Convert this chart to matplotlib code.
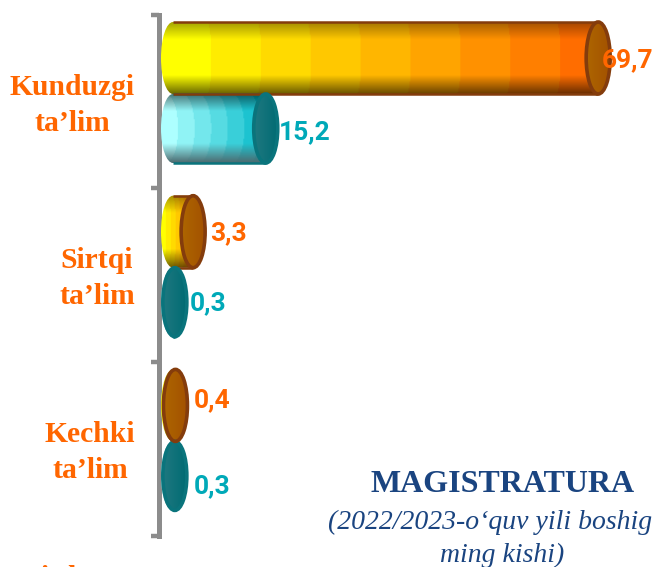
import numpy as np
import matplotlib
matplotlib.use("Agg")
import matplotlib.pyplot as plt
from matplotlib.patches import Ellipse, PathPatch
from matplotlib.path import Path

categories = ["Kunduzgi\nta\u2019lim", "Sirtqi\nta\u2019lim", "Kechki\nta\u2019lim"]
orange_values = [69.7, 3.3, 0.4]
teal_values = [15.2, 0.3, 0.3]
orange_labels = ["69,7", "3,3", "0,4"]
teal_labels = ["15,2", "0,3", "0,3"]

W, H = 654, 567
PX_X = 6.1      # pixels per unit of value
PX_Y = 173.7    # pixels per category
X0 = 161        # pixel of value zero
Y0 = 100.5      # pixel of first category
CAP = 24 / PX_X
ORANGE_H = 72 / PX_Y
TEAL_H = 69 / PX_Y
ORANGE_OFF = -42.5 / PX_Y
TEAL_OFF = 28 / PX_Y

fig = plt.figure(figsize=(W / 100, H / 100), dpi=100)
ax = fig.add_axes([0, 0, 1, 1])
ax.axis("off")


def reset_limits():
    # imshow changes the limits, so put them back after each call
    ax.set_xlim(-X0 / PX_X, (W - X0) / PX_X)
    ax.set_ylim((H - Y0) / PX_Y, -Y0 / PX_Y)


def shade(n, top, bottom):
    t = np.linspace(0, 1, n)
    s = np.ones(n)
    s[t < 0.24] = top + (1 - top) * (t[t < 0.24] / 0.24)
    s[t > 0.74] = 1 - (1 - bottom) * ((t[t > 0.74] - 0.74) / 0.26)
    return s


def cylinder(value, y, h, c_left, c_right, bands, edge, cap_left, cap_right, top, bottom,
             bend_k=1.0, low_grey=False):
    x1 = value + CAP
    rx = CAP / 2
    y0, y3 = y - h / 2, y + h / 2
    nx, ny = max(int(x1 * PX_X) + 2, 4), int(h * PX_Y) + 2
    xx, yy = np.meshgrid(np.linspace(0, x1, nx), np.linspace(-1, 1, ny))
    # stepped colour bands, bent a little like the curve of the cylinder
    bend = bend_k * rx * (1 - np.sqrt(np.clip(1 - yy ** 2, 0, 1)))
    pos = np.clip((xx + bend) / x1, 0, 0.999)
    step = np.floor(pos * bands) / (bands - 1)
    img = np.zeros((ny, nx, 3))
    for k in range(3):
        img[..., k] = c_left[k] + (c_right[k] - c_left[k]) * step
    if low_grey:
        t = np.clip((np.linspace(0, 1, ny) - 0.72) / 0.28, 0, 1)[:, None, None]
        img = img * shade(ny, top, 1.0)[:, None, None] * (1 - t) + np.array([0.3, 0.42, 0.44]) * t
    else:
        img = img * shade(ny, top, bottom)[:, None, None]
    im = ax.imshow(img, extent=[0, x1, y3, y0], aspect="auto", zorder=2, interpolation="bilinear")

    k = 0.5523
    ry = h / 2
    verts = [(rx, y0), (value + rx, y0),
             (value + rx + k * rx, y0), (x1, y - k * ry), (x1, y),
             (x1, y + k * ry), (value + rx + k * rx, y3), (value + rx, y3),
             (rx, y3),
             (rx - k * rx, y3), (0, y + k * ry), (0, y),
             (0, y - k * ry), (rx - k * rx, y0), (rx, y0)]
    codes = [Path.MOVETO, Path.LINETO, Path.CURVE4, Path.CURVE4, Path.CURVE4,
             Path.CURVE4, Path.CURVE4, Path.CURVE4, Path.LINETO,
             Path.CURVE4, Path.CURVE4, Path.CURVE4, Path.CURVE4, Path.CURVE4, Path.CURVE4]
    outline = PathPatch(Path(verts, codes), fc="none", ec="none", zorder=3)
    ax.add_patch(outline)
    im.set_clip_path(outline)
    # only the long sides carry a stroke, the left end has none
    ax.plot([rx, value + rx], [y0, y0], color=edge, lw=1.8, zorder=3, solid_capstyle="butt")
    ax.plot([rx, value + rx], [y3, y3], color=edge, lw=1.8, zorder=3, solid_capstyle="butt")

    grad = np.zeros((2, 40, 3))
    for i in range(3):
        grad[:, :, i] = np.linspace(cap_left[i], cap_right[i], 40)
    cap_im = ax.imshow(grad, extent=[value, x1, y3, y0], aspect="auto", zorder=4)
    cap = Ellipse((value + rx, y), CAP, h, fc="none", ec=edge, lw=2.6, zorder=5)
    ax.add_patch(cap)
    cap_im.set_clip_path(cap)
    reset_limits()


ORANGE = "#FF6600"
TEAL = "#00A9B8"
NAVY = "#1A4480"
GREY = "#8C8C8C"
SERIF = "Liberation Serif"

for i in range(len(categories)):
    cylinder(teal_values[i], i + TEAL_OFF, TEAL_H, (0.68, 1, 1), (0, 0.72, 0.78), 7, "#0A747C",
             (0.12, 0.47, 0.5), (0.0, 0.42, 0.45), 0.5, 0.3, low_grey=True)
    cylinder(orange_values[i], i + ORANGE_OFF, ORANGE_H, (1, 1, 0), (1, 0.43, 0), 9, "#843C0C",
             (0.68, 0.4, 0.0), (0.64, 0.32, 0.0), 0.65, 0.42, bend_k=0.35)

# axis line with group ticks
ticks = np.arange(len(categories) + 1) - 0.4951
ax.plot([-2.5 / PX_X, -2.5 / PX_X], [ticks[0], ticks[-1]], color=GREY, lw=3.6, zorder=1,
        solid_capstyle="projecting")
for t in ticks:
    ax.plot([-10 / PX_X, -2.5 / PX_X], [t, t], color=GREY, lw=3.2, zorder=1, solid_capstyle="butt")

# category labels
label_x = [72.5, 97, 90]
label_dy = [4.7, 4.0, 4.3]
for i, name in enumerate(categories):
    ax.text((label_x[i] - X0) / PX_X, i + label_dy[i] / PX_Y, name, color=ORANGE, family=SERIF,
            weight="bold", fontsize=21.3, ha="center", va="center", linespacing=1.42)

# value labels
o_pos = [(602, 60), (210, 233), (194, 400)]
t_pos = [(279, 132), (190, 303), (194, 486)]
for lab, (px, py) in zip(orange_labels, o_pos):
    ax.text((px - X0) / PX_X, (py - Y0) / PX_Y, lab, color=ORANGE, family="Roboto", weight="bold",
            fontsize=19, ha="left", va="center", zorder=6)
for lab, (px, py) in zip(teal_labels, t_pos):
    ax.text((px - X0) / PX_X, (py - Y0) / PX_Y, lab, color=TEAL, family="Roboto", weight="bold",
            fontsize=19, ha="left", va="center", zorder=6)

# text block, lower right
fig.text(503 / W, 1 - 484 / H, "MAGISTRATURA", color=NAVY, family=SERIF,
         weight="bold", fontsize=23, ha="center", va="center")
fig.text(328 / W, 1 - 522 / H, "(2022/2023-o\u2018quv yili boshig", color=NAVY,
         family=SERIF, style="italic", fontsize=20, ha="left", va="center")
fig.text(502 / W, 1 - 555 / H, "ming kishi)", color=NAVY, family=SERIF,
         style="italic", fontsize=20, ha="center", va="center")

# tops of a label cut off by the bottom edge of the picture
fig.text(44 / W, 1 - 578 / H, "i", color=ORANGE, family=SERIF, weight="bold", fontsize=21.3,
         ha="center", va="center")
fig.text(76 / W, 1 - 579 / H, "k", color=ORANGE, family=SERIF, weight="bold", fontsize=21.3,
         ha="center", va="center")

fig.savefig("out.png", dpi=100)
